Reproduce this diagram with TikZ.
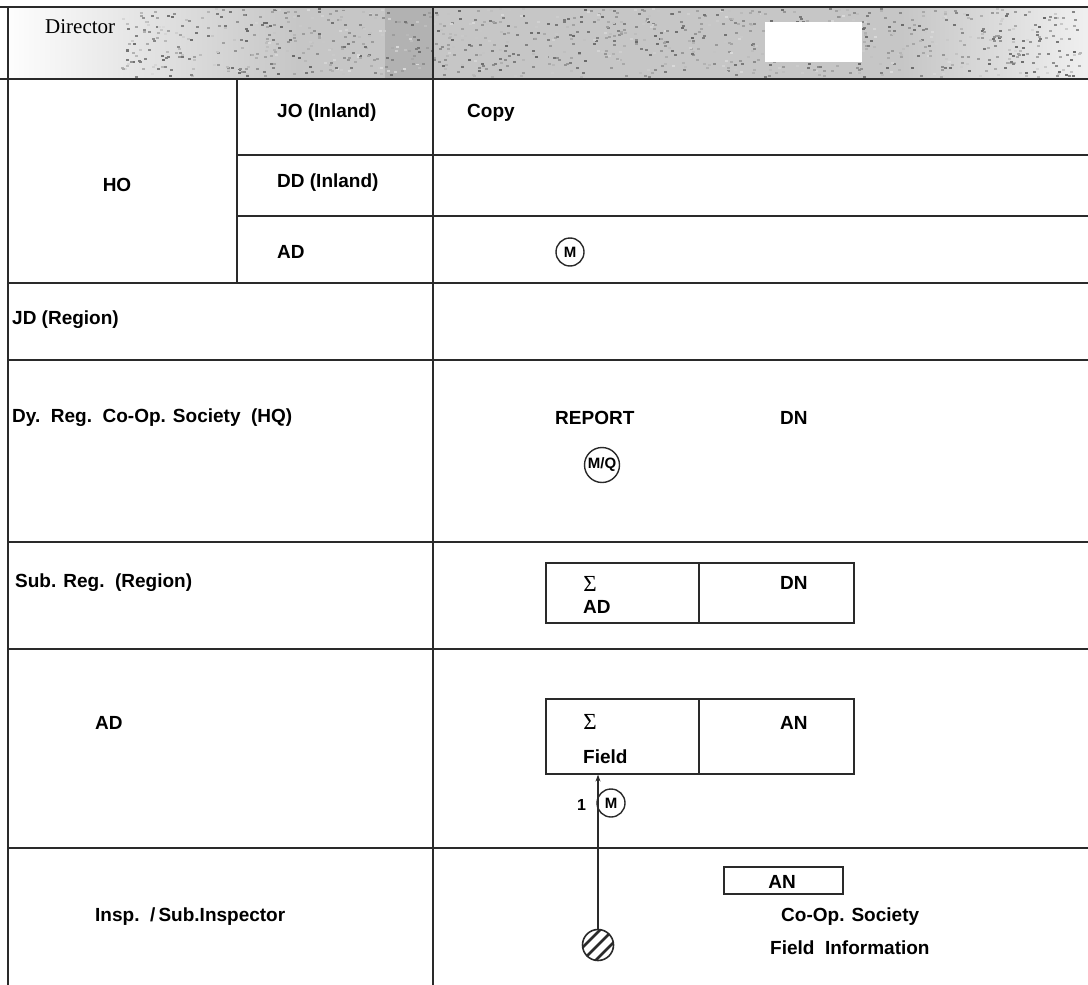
\documentclass[tikz,border=0pt]{standalone}
\usepackage{fontspec}
\setmainfont{Liberation Sans}
\newfontfamily\dirfont{Liberation Serif}
\usepackage{tikz}
\usetikzlibrary{arrows.meta,positioning}
\definecolor{inkGray}{HTML}{2A2A2A}

\begin{document}
\begin{tikzpicture}[x=1pt,y=-1pt,>=Stealth,
  lbl/.style={font=\fontsize{19}{22}\selectfont\bfseries, inner sep=0pt, anchor=west},
  rule/.style={inkGray, line width=1.6pt},
  ring/.style={draw=inkGray, circle, line width=1.4pt, inner sep=0pt, minimum size=28pt,
    font=\fontsize{15}{16}\selectfont\bfseries},
  cellbox/.style={draw=inkGray, line width=1.6pt, rectangle, inner sep=0pt},
  sig/.style={inner sep=0pt, font=\dirfont\fontsize{23}{25}\selectfont}]
\useasboundingbox (0,0) rectangle (1088,985);
\def\xl{8}\def\xm{237}\def\xd{433}\def\xr{1088}
% header band
\shade[left color=white, right color=gray!45] (0,7) rectangle (300,79);
\fill[gray!45] (300,7) rectangle (900,79);
\shade[left color=gray!45, right color=gray!12] (900,7) rectangle (\xr,79);
\fill[gray!60] (385,7) rectangle (\xd,79);
\pgfmathsetseed{11}
\foreach \i in {1,...,1100}{
  \pgfmathsetmacro\nx{120+rnd*960}
  \pgfmathsetmacro\ny{8+rnd*68}
  \pgfmathsetmacro\ng{int(15+rnd*45)}
  \fill[black!\ng] (\nx,\ny) rectangle ++(3,2);
}
\fill[white] (765,22) rectangle (862,62);
\node[font=\dirfont\fontsize{21}{24}\selectfont, inner sep=0pt, anchor=west] (director) at (45,27) {Director};
% table rules
\draw[inkGray, line width=2.2pt] (0,7) -- (\xr,7);
\draw[rule] (0,79) -- (\xr,79);
\draw[rule] (\xl,7) -- (\xl,985);
\draw[rule] (\xd,7) -- (\xd,985);
\draw[rule] (\xm,79) -- (\xm,283);
\foreach \y in {155,216}{
  \draw[rule] (\xm,\y) -- (\xr,\y);
}
\foreach \y in {283,360,542,649,848}{
  \draw[rule] (\xl,\y) -- (\xr,\y);
}
% left column
\node[lbl, anchor=center] (ho) at (117,185) {HO};
\node[lbl] (jo) at (277,113) {JO (Inland)};
\node[lbl] (dd) at (277,183) {DD (Inland)};
\node[lbl] (adho) at (277,252) {AD};
\node[lbl] (jd) at (12,320) {JD (Region)};
\node[lbl] (dyreg) at (12,418) {Dy.\ \ Reg.\ \ Co-Op. Society\ \ (HQ)};
\node[lbl] (subreg) at (15,583) {Sub. Reg.\ \ (Region)};
\node[lbl] (adrow) at (95,723) {AD};
\node[lbl] (insp) at (95,917) {Insp.\ \ /\,Sub.Inspector};
% right column
\node[lbl] (copy) at (467,113) {Copy};
\node[ring] (mad) at (570,252) {M};
\node[lbl] (report) at (555,418) {REPORT};
\node[lbl] (dnhq) at (780,418) {DN};
\node[ring, minimum size=35pt] (mq) at (602,465) {M/Q};
% sub. reg. box
\node[cellbox, minimum width=153pt, minimum height=60pt, anchor=north west] (sumad) at (545,562) {};
\node[cellbox, minimum width=155pt, minimum height=60pt, anchor=north west] (dnbox) at (698,562) {};
\node[sig] (sigad) at (590,584) {Σ};
\node[lbl] (adsum) at (583,607) {AD};
\node[lbl] (dnsub) at (780,583) {DN};
% field box
\node[cellbox, minimum width=153pt, minimum height=75pt, anchor=north west] (sumfield) at (545,698) {};
\node[cellbox, minimum width=155pt, minimum height=75pt, anchor=north west] (anbox) at (698,698) {};
\node[sig] (sigfield) at (590,722) {Σ};
\node[lbl] (field) at (583,757) {Field};
\node[lbl] (anad) at (780,723) {AN};
% field report
\node[lbl, font=\fontsize{16}{18}\selectfont\bfseries] (one) at (577,805) {1};
\node[ring] (mfield) at (611,803) {M};
\node[circle, draw=inkGray, line width=1.6pt, minimum size=31pt, inner sep=0pt] (hatch) at (598,945) {};
\begin{scope}[shift={(598,945)}]
  \clip (0,0) circle (15.5);
  \foreach \d in {-13,0,13}{
    \draw[inkGray, line width=2.8pt] ({\d-20},20) -- ({\d+20},-20);
  }
\end{scope}
\draw[inkGray, line width=1.2pt, -{Stealth[length=7pt,width=5pt]}] (hatch.north) -- (hatch.north |- sumfield.south);
% society info
\node[cellbox, minimum width=119pt, minimum height=27pt, anchor=north west] (anfield) at (723,866) {};
\node[lbl, anchor=center] (antxt) at (782,882) {AN};
\node[lbl] (coop) at (781,917) {Co-Op. Society};
\node[lbl] (finfo) at (770,948) {Field\ \ Information};
\end{tikzpicture}
\end{document}
